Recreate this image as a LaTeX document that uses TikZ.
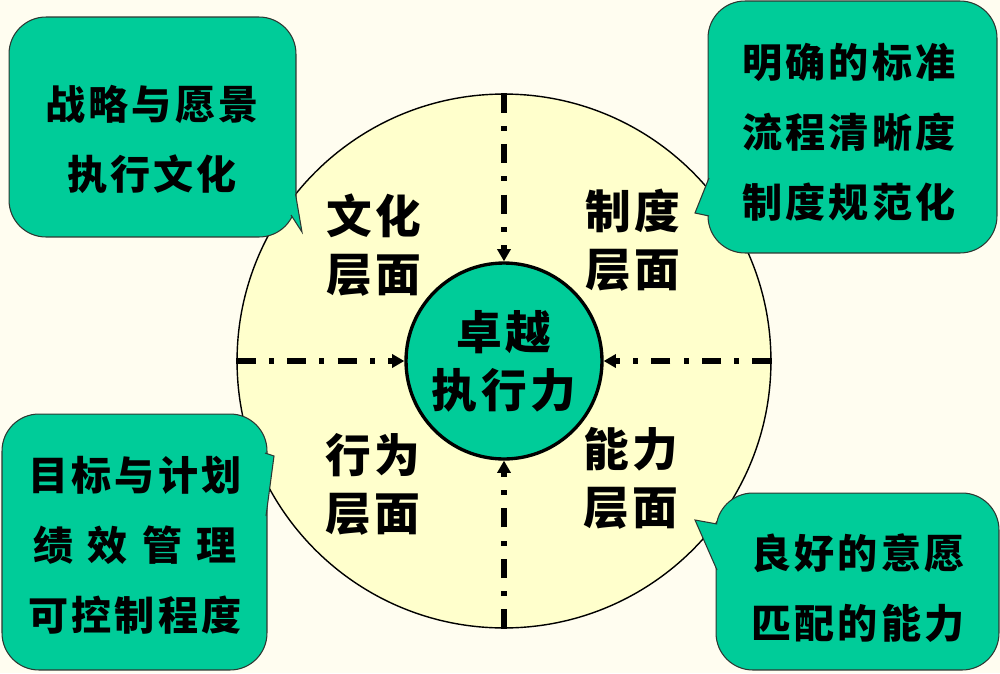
\documentclass[tikz,border=0pt]{standalone}
\usepackage{fontspec}
\newfontfamily\cjk{Noto Sans CJK SC}[LetterSpace=8]
\usetikzlibrary{arrows.meta}
\definecolor{paper}{RGB}{255,253,240}
\definecolor{disc}{RGB}{255,255,204}
\definecolor{boxgreen}{RGB}{0,204,153}
\definecolor{edge}{RGB}{45,55,50}

\begin{document}
\begin{tikzpicture}[x=0.02cm, y=-0.02cm,
    flow/.style={line width=3.2pt, dash pattern=on 11pt off 7.5pt on 2.8pt off 7.5pt,
      -{Triangle[length=7pt,width=7.5pt]}},
    bubble/.style={draw=edge, line width=0.6pt, fill=boxgreen, rounded corners=21pt},
    bubbletext/.style={align=center, font=\cjk\bfseries\fontsize{22.8}{39.8}\selectfont},
    layer/.style={align=center, font=\cjk\bfseries\fontsize{26}{33}\selectfont}]

	% background
	\fill[paper] (0,0) rectangle (1000,673);

	% outer disc and the core
	\node[circle, draw, line width=0.8pt, fill=disc, minimum size=10.68cm] (rim) at (504,361) {};
	\node[circle, draw, line width=1.9pt, fill=boxgreen, minimum size=3.92cm, layer] (core) at (504,361) {卓越\\执行力};

	% dash-dot arrows into the core
	\draw[flow] (rim.north) -- (core.north);
	\draw[flow] (rim.south) -- (core.south);
	\draw[flow] (rim.west) -- (core.west);
	\draw[flow] (rim.east) -- (core.east);

	% the four layers
	\node[layer] (culture) at (374,245) {文化\\层面};
	\node[layer] (system) at (633,240) {制度\\层面};
	\node[layer] (behavior) at (373,484) {行为\\层面};
	\node[layer] (ability) at (631,478) {能力\\层面};

	% TOP LEFT callout
	\node[bubble, minimum width=5.74cm, minimum height=4.4cm] (visionbox) at (152.5,127) {};
	\fill[boxgreen] (295.5,194) -- (302,232) -- (291,215) -- cycle;
	\draw[edge, line width=0.6pt] (295.5,194) -- (302,232) -- (291,215);
	\node[bubbletext] (vision) at (152,139) {战略与愿景\\执行文化};

	% TOP RIGHT callout
	\node[bubble, minimum width=5.78cm, minimum height=5.04cm] (rulebox) at (852.5,127) {};
	\fill[boxgreen] (709,178) -- (695,213) -- (709,216) -- cycle;
	\draw[edge, line width=0.6pt] (709,178) -- (695,213) -- (709,216);
	\node[bubbletext] (rule) at (849,132) {明确的标准\\流程清晰度\\制度规范化};

	% BOTTOM LEFT callout
	\node[bubble, minimum width=5.3cm, minimum height=5.12cm] (planbox) at (134.5,542) {};
	\fill[boxgreen] (265,453) -- (274,456) -- (266,516) -- cycle;
	\draw[edge, line width=0.6pt] (265,453) -- (274,456) -- (266,516);
	\node[bubbletext] (plan) at (135,545) {目标与计划\\绩\hspace{0.36em}效\hspace{0.36em}管\hspace{0.36em}理\\可控制程度};

	% BOTTOM RIGHT callout
	\node[bubble, minimum width=5.66cm, minimum height=3.54cm] (skillbox) at (857.5,581.5) {};
	\fill[boxgreen] (717,524) -- (695,520) -- (717,570) -- cycle;
	\draw[edge, line width=0.6pt] (717,524) -- (695,520) -- (717,570);
	\node[bubbletext] (skill) at (858,588) {良好的意愿\\匹配的能力};
\end{tikzpicture}
\end{document}
